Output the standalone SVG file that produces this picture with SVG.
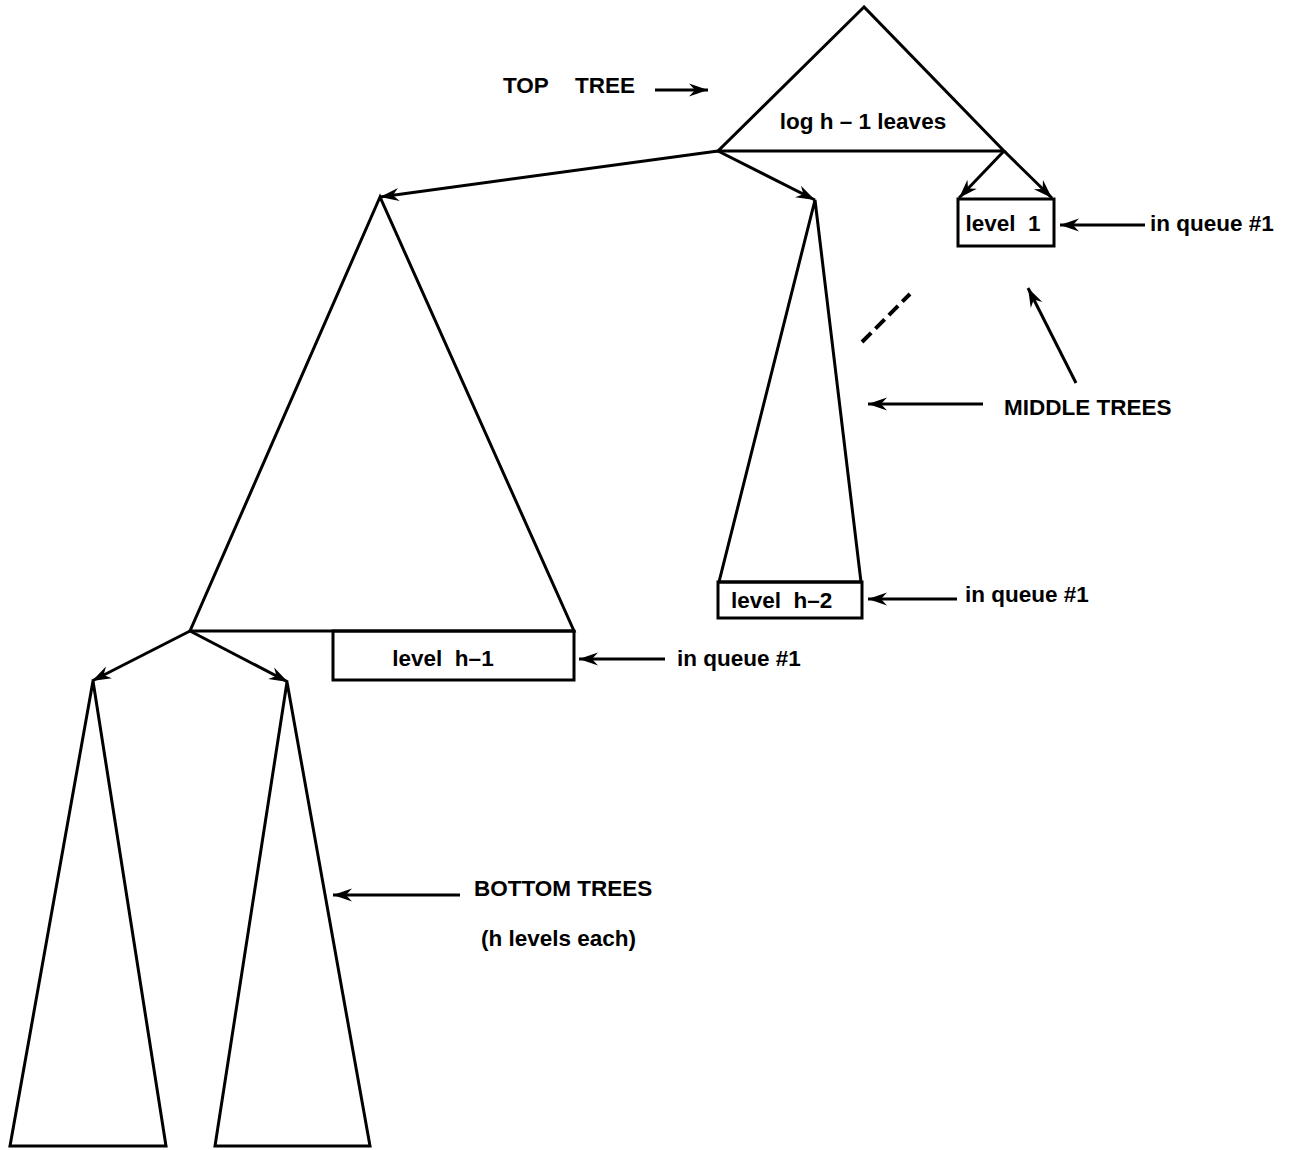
<svg xmlns="http://www.w3.org/2000/svg" width="1291" height="1150" viewBox="0 0 1291 1150">
<defs>
<marker id="ah" viewBox="-20 -8 22 16" markerWidth="22" markerHeight="16" refX="0" refY="0" orient="auto" markerUnits="userSpaceOnUse">
<path d="M0,0 L-19,-6.5 L-13,0 L-19,6.5 Z" fill="#000"/>
</marker>
</defs>
<style>
.s{fill:none;stroke:#000;stroke-width:3;stroke-linejoin:miter}
.a{fill:none;stroke:#000;stroke-width:3;marker-end:url(#ah)}
text{font-family:"Liberation Sans",Arial,sans-serif;font-weight:bold;font-size:22.5px;fill:#000;white-space:pre}
</style>
<rect width="1291" height="1150" fill="#fff"/>
<g id="top-tree">
<polygon class="s" points="864,7 718,151 1004,151"/>
<text x="863" y="129" text-anchor="middle">log h – 1 leaves</text>
</g>
<g id="level1">
<rect class="s" x="958" y="199" width="96" height="47"/>
<text x="1003" y="231" text-anchor="middle" xml:space="preserve">level  1</text>
</g>
<g id="big-tree">
<polygon class="s" points="380,197 190,631 574,631"/>
</g>
<g id="level-h1">
<rect class="s" x="333" y="631" width="241" height="49"/>
<text x="443" y="666" text-anchor="middle" xml:space="preserve">level  h–1</text>
</g>
<g id="middle-tree">
<polygon class="s" points="815,200 719,582 861,582"/>
</g>
<g id="level-h2">
<rect class="s" x="718" y="582" width="144" height="36"/>
<text x="731" y="608" xml:space="preserve">level  h–2</text>
</g>
<g id="bottom-left">
<polygon class="s" points="93,681 10,1146 166,1146"/>
</g>
<g id="bottom-right">
<polygon class="s" points="287,682 215,1146 370,1146"/>
</g>
<g id="labels">
<text x="503" y="93">TOP</text>
<text x="575" y="93">TREE</text>
<text x="1150" y="231">in queue #1</text>
<text x="677" y="666">in queue #1</text>
<text x="965" y="602">in queue #1</text>
<text x="1004" y="415">MIDDLE TREES</text>
<text x="474" y="896">BOTTOM TREES</text>
<text x="481" y="946">(h levels each)</text>
</g>
<g id="connectors">
<line class="a" x1="718" y1="151" x2="380" y2="197"/>
<line class="a" x1="718" y1="151" x2="815" y2="200"/>
<line class="a" x1="1004" y1="151" x2="959" y2="198"/>
<line class="a" x1="1004" y1="151" x2="1052" y2="198"/>
<line class="a" x1="190" y1="631" x2="92" y2="681"/>
<line class="a" x1="190" y1="631" x2="288" y2="682"/>
<line class="a" x1="655" y1="90" x2="708" y2="90"/>
<line class="a" x1="1145" y1="225" x2="1060" y2="225"/>
<line class="a" x1="665" y1="659" x2="579" y2="659"/>
<line class="a" x1="957" y1="599" x2="868" y2="599"/>
<line class="a" x1="983" y1="404" x2="868" y2="404"/>
<line class="a" x1="1076" y1="383" x2="1028" y2="288"/>
<line class="a" x1="460" y1="895" x2="333" y2="895"/>
<line x1="862" y1="342" x2="910" y2="294" stroke="#000" stroke-width="4" stroke-dasharray="13,6"/>
</g>
</svg>
